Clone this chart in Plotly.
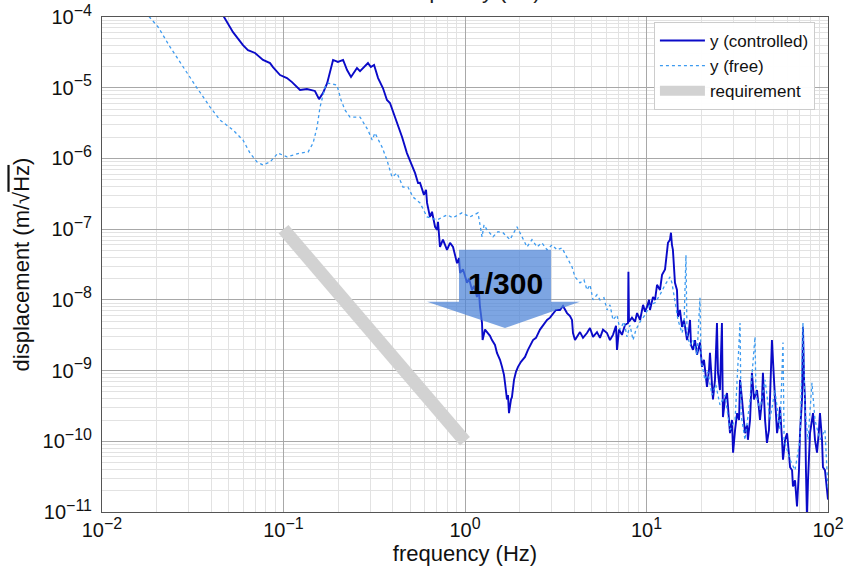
import numpy as np
import plotly.graph_objects as go

# ---- data ----
ctrl_f = [0.046, 0.0527, 0.0598, 0.0637, 0.0697, 0.0771, 0.0843, 0.0875, 0.0957, 0.1045,
          0.1114, 0.1233, 0.1346, 0.1456, 0.149, 0.157, 0.165, 0.174, 0.180, 0.1875,
          0.1995, 0.213, 0.224, 0.2355, 0.254, 0.264, 0.292, 0.303, 0.3155, 0.332,
          0.353, 0.3715, 0.386, 0.411, 0.4385, 0.45, 0.4786, 0.5105, 0.531, 0.551,
          0.565, 0.594, 0.610, 0.618, 0.641, 0.658, 0.684, 0.701, 0.710, 0.728,
          0.756, 0.796, 0.827, 0.859, 0.881, 0.904, 0.927, 0.939, 0.975, 1.026,
          1.052, 1.093, 1.121, 1.164, 1.194, 1.209, 1.241, 1.25, 1.289, 1.322,
          1.373, 1.408, 1.463, 1.500, 1.559, 1.599, 1.640, 1.661, 1.703, 1.725,
          1.747, 1.792, 1.814, 1.862, 1.909, 1.959, 2.034, 2.141, 2.223, 2.370,
          2.461, 2.589, 2.690, 2.831, 2.940, 3.055, 3.171, 3.337, 3.467, 3.648,
          3.789, 3.886, 3.936, 4.037, 4.141, 4.302, 4.469, 4.699, 4.883, 5.073,
          5.336, 5.543, 5.759, 6.056, 6.292, 6.537, 6.791, 6.877, 7.052, 7.326,
          7.612, 7.908, 7.95, 8.008, 8.318, 8.642, 8.872, 9.218, 9.576, 9.82,
          10.07, 10.33, 10.45, 10.86, 11.14, 11.43, 11.87, 12.18, 12.65, 12.97,
          13.13, 13.47, 13.64, 13.81, 13.98, 14.35, 14.72, 14.91, 15.29, 15.69,
          16.09, 16.72, 17.15, 17.37, 17.59, 18.04, 18.50, 18.98, 19.71, 20.21,
          20.73, 21.54, 22.09, 22.37, 22.95, 23.24, 23.84, 24.45, 24.76, 25.39,
          26.04, 26.37, 27.08, 27.77, 28.48, 28.84, 29.58, 29.99, 30.76, 31.55,
          32.35, 32.76, 33.6, 34.46, 34.9, 35.8, 36.2, 37.2, 38.1, 39.1,
          40.6, 41.7, 42.2, 43.3, 43.8, 45.0, 46.1, 47.3, 49.1, 50.4,
          51.0, 52.4, 53.7, 54.4, 55.8, 56.5, 58.0, 59.5, 61.0, 61.8,
          63.4, 64.1, 65.8, 67.5, 69.2, 70.1, 71.9, 72.8, 73.8, 74.7,
          75.6, 76.6, 77.6, 79.6, 81.6, 82.7, 84.8, 87.0, 89.2, 90.3,
          92.7, 93.8, 96.2, 98.6, 100.0]
ctrl_y = [1.1e-4, 6.1e-5, 4.0e-5, 3.4e-5, 3.1e-5, 2.47e-5, 2.23e-5, 1.96e-5, 1.51e-5, 1.37e-5,
          1.2e-5, 9.3e-6, 9.6e-6, 9.3e-6, 9.0e-6, 6.9e-6, 8.4e-6, 1.16e-5, 1.67e-5, 2.47e-5,
          2.31e-5, 2.47e-5, 1.78e-5, 1.42e-5, 1.9e-5, 1.72e-5, 2.23e-5, 1.96e-5, 2.1e-5, 1.37e-5,
          9.9e-6, 6.7e-6, 6.08e-6, 3.85e-6, 2.52e-6, 2.01e-6, 1.19e-6, 8.07e-7, 6.2e-7, 4.49e-7,
          4.52e-7, 3.05e-7, 3.6e-7, 2.35e-7, 1.49e-7, 1.76e-7, 1.08e-7, 9.8e-8, 1.27e-7, 5.6e-8,
          7.1e-8, 5.1e-8, 6.4e-8, 5.6e-8, 4.3e-8, 3.3e-8, 3.9e-8, 2.4e-8, 2.7e-8, 1.74e-8,
          2.0e-8, 1.38e-8, 1.58e-8, 1.1e-8, 1.3e-8, 8.0e-9, 4.7e-9, 2.7e-9, 3.8e-9, 3.5e-9,
          3.1e-9, 2.7e-9, 2.3e-9, 1.78e-9, 1.42e-9, 1.13e-9, 8.7e-10, 6.7e-10, 3.9e-10, 4.5e-10,
          2.5e-10, 3.9e-10, 4.2e-10, 7.4e-10, 9.6e-10, 1.13e-9, 1.33e-9, 1.56e-9, 1.96e-9, 2.7e-9,
          2.9e-9, 3.8e-9, 4.4e-9, 5.2e-9, 5.6e-9, 6.5e-9, 7.2e-9, 7.2e-9, 8.2e-9, 6.5e-9,
          5.9e-9, 5.2e-9, 3.4e-9, 2.7e-9, 3.0e-9, 3.5e-9, 2.9e-9, 3.4e-9, 4.0e-9, 3.0e-9,
          3.5e-9, 2.9e-9, 3.8e-9, 3.4e-9, 2.7e-9, 3.2e-9, 4.3e-9, 1.96e-9, 3.8e-9, 3.2e-9,
          4.4e-9, 4.7e-9, 2.5e-8, 4.9e-9, 5.6e-9, 4.9e-9, 6.5e-9, 5.2e-9, 8.5e-9, 6.8e-9,
          8.0e-9, 1.0e-8, 7.2e-9, 1.1e-8, 1.0e-8, 1.63e-8, 1.38e-8, 2.26e-8, 2.7e-8, 4.3e-8,
          6.4e-8, 7.1e-8, 8.9e-8, 6.0e-8, 5.1e-8, 1.74e-8, 1.38e-8, 5.75e-9, 7.2e-9, 4.15e-9,
          5.2e-9, 2.7e-9, 3.8e-9, 5.2e-9, 2.3e-9, 1.96e-9, 2.7e-9, 1.67e-9, 2.5e-9, 1.13e-9,
          1.42e-9, 5.9e-10, 1.0e-9, 1.78e-9, 7.4e-10, 3.9e-10, 7.4e-10, 4.7e-9, 9.3e-10, 5.3e-10,
          4.7e-9, 2.2e-10, 3.9e-10, 4.8e-10, 2.0e-10, 1.3e-10, 2.0e-10, 6.9e-11, 1.45e-10, 2.5e-10,
          2.0e-10, 7.4e-10, 3.9e-10, 2.0e-10, 1.3e-10, 1.7e-10, 1.05e-10, 2.0e-10, 9.3e-10, 3.9e-10,
          5.3e-10, 2.8e-10, 2.0e-10, 3.9e-10, 9.3e-10, 2.0e-10, 9.5e-11, 1.45e-10, 2.7e-9, 7.4e-10,
          3.9e-10, 1.3e-10, 2.0e-10, 3.07e-10, 1.05e-10, 5.5e-11, 1.05e-10, 1.3e-10, 6.4e-11, 4.3e-11,
          3.9e-11, 2.3e-11, 2.8e-11, 1.2e-11, 3.9e-11, 1.3e-10, 3.9e-10, 4.15e-9, 7.4e-10, 3.9e-10,
          3.9e-11, 8e-12, 2.8e-11, 1.3e-10, 2.0e-10, 2.5e-10, 1.05e-10, 6.9e-11, 1.45e-10, 2.5e-10,
          1.05e-10, 4.3e-11, 3.9e-11, 2.3e-11, 1.5e-11]

free_f = [0.01726, 0.0204, 0.0237, 0.0279, 0.0334, 0.0394, 0.0447, 0.0527, 0.0598, 0.0654,
          0.0715, 0.0771, 0.0843, 0.0933, 0.1045, 0.1233, 0.1365, 0.1456, 0.1531, 0.159,
          0.1694, 0.1759, 0.197, 0.2075, 0.218, 0.2325, 0.264, 0.292, 0.308, 0.319,
          0.349, 0.3715, 0.396, 0.422, 0.455, 0.485, 0.517, 0.565, 0.618, 0.701,
          0.796, 0.859, 0.963, 1.065, 1.179, 1.241, 1.273, 1.322, 1.427, 1.52,
          1.619, 1.770, 1.934, 2.009, 2.196, 2.339, 2.493, 2.655, 2.831, 3.015,
          3.213, 3.422, 3.648, 3.886, 4.037, 4.302, 4.525, 4.699, 4.883, 5.073,
          5.336, 5.543, 5.83, 6.056, 6.292, 6.537, 6.877, 7.14, 7.52, 7.81,
          8.11, 8.43, 8.75, 9.218, 9.82, 10.45, 11.14, 11.87, 12.65, 13.13,
          13.47, 13.81, 14.35, 14.91, 15.69, 16.09, 16.5, 16.72, 17.37, 18.04,
          18.98, 19.71, 19.96, 21.0, 21.8, 22.95, 24.1, 25.39, 27.08, 28.84,
          30.76, 32.76, 33.2, 34.9, 37.2, 39.6, 40.1, 42.2, 45.0, 47.9,
          51.0, 54.4, 56.5, 57.3, 61.8, 65.8, 70.1, 72.8, 74.7, 77.6,
          81.6, 84.8, 90.3, 96.2, 100.0]
free_y = [1.18e-4, 7.2e-5, 3.77e-5, 1.96e-5, 9.9e-6, 5.33e-6, 3.49e-6, 2.52e-6, 1.82e-6, 1.19e-6,
          8.9e-7, 8.07e-7, 8.9e-7, 1.19e-6, 1.05e-6, 1.19e-6, 1.23e-6, 1.65e-6, 2.78e-6, 5.33e-6,
          1.02e-5, 1.16e-5, 1.09e-5, 6.7e-6, 4.84e-6, 3.85e-6, 3.85e-6, 2.52e-6, 1.82e-6, 2.29e-6,
          1.45e-6, 9.5e-7, 5.46e-7, 6.2e-7, 3.94e-7, 3.94e-7, 2.84e-7, 2.35e-7, 1.49e-7, 1.35e-7,
          1.59e-7, 1.45e-7, 1.7e-7, 1.49e-7, 1.7e-7, 7.8e-8, 1.15e-7, 9.8e-8, 7.8e-8, 9.2e-8,
          8.9e-8, 7.1e-8, 1.08e-7, 8.9e-8, 5.6e-8, 7.1e-8, 5.6e-8, 6.4e-8, 5.1e-8, 6.0e-8,
          5.1e-8, 5.43e-8, 4.05e-8, 2.93e-8, 2.11e-8, 1.74e-8, 1.92e-8, 1.38e-8, 1.63e-8, 1.0e-8,
          1.18e-8, 1.0e-8, 1.07e-8, 7.2e-9, 8.5e-9, 5.2e-9, 6.1e-9, 3.8e-9, 4.9e-9, 3.0e-9,
          4.4e-9, 2.7e-9, 3.8e-9, 4.9e-9, 6.1e-9, 8.5e-9, 9.1e-9, 1.18e-8, 1.63e-8, 1.92e-8,
          2.11e-8, 1.74e-8, 1.0e-8, 5.2e-9, 3.4e-9, 4.4e-9, 4.3e-8, 3.2e-9, 2.3e-9, 2.7e-9,
          1.67e-9, 1.07e-8, 1.42e-9, 7.4e-10, 9.6e-10, 4.5e-10, 6.3e-10, 3.27e-10, 4.5e-10, 1.45e-10,
          2.0e-10, 4.7e-9, 2.36e-10, 1.05e-10, 3.9e-10, 3.0e-9, 4.5e-10, 2.8e-10, 7.4e-10, 2.0e-10,
          5.3e-10, 1.45e-10, 2.5e-9, 1.05e-10, 5.5e-11, 3.9e-11, 1.05e-10, 4.7e-9, 2.8e-10, 1.05e-10,
          6.7e-10, 2.0e-10, 1.05e-10, 1.45e-10, 2.06e-11]

req_f = [0.1, 1.0]
req_y = [1e-7, 1e-10]

arrow_f = [0.927, 2.98, 2.98, 4.30, 1.661, 0.618, 0.927, 0.927]
arrow_y = [5.1e-8, 5.1e-8, 9.4e-9, 9.4e-9, 4.0e-9, 9.4e-9, 9.4e-9, 5.1e-8]
arrow_label = "1/300"
label_f = 1.67
label_y = 1.68e-8

x_tick_exp = ["\u22122", "\u22121", "0", "1", "2"]
x_tickvals = [0.01, 0.1, 1, 10, 100]
y_tick_exp = ["\u22124", "\u22125", "\u22126", "\u22127", "\u22128", "\u22129", "\u221210", "\u221211"]
y_tickvals = [1e-4, 1e-5, 1e-6, 1e-7, 1e-8, 1e-9, 1e-10, 1e-11]

SUP = "10<sup><span style='font-size:16px'>%s</span></sup>"
x_ticktext = [SUP % e for e in x_tick_exp]
y_ticktext = [SUP % e for e in y_tick_exp]

FONT = "Liberation Sans, Arial, sans-serif"

fig = go.Figure()
fig.add_trace(go.Scatter(x=ctrl_f, y=ctrl_y, mode="lines", name="y (controlled)",
                         line=dict(color="#0a0ac8", width=1.9)))
fig.add_trace(go.Scatter(x=free_f, y=free_y, mode="lines", name="y (free)",
                         line=dict(color="#3d9bf0", width=1.3, dash="dot")))
fig.add_trace(go.Scatter(x=req_f, y=req_y, mode="lines", name="requirement",
                         line=dict(color="#d2d2d2", width=13)))
fig.add_trace(go.Scatter(x=arrow_f, y=arrow_y, mode="lines", fill="toself",
                         fillcolor="rgba(75,130,215,0.72)", line=dict(width=0),
                         showlegend=False, hoverinfo="skip"))
fig.add_annotation(x=np.log10(label_f), y=np.log10(label_y), xref="x", yref="y",
                   text="<b>%s</b>" % arrow_label, showarrow=False,
                   font=dict(family=FONT, size=30, color="black"))
fig.add_annotation(x=0.5, y=1, xref="paper", yref="paper", yanchor="bottom",
                   yshift=12, text="Frequency (Hz)", showarrow=False,
                   font=dict(family=FONT, size=22, color="#222"))

minor_x = [m * 10.0 ** e for e in range(-2, 2) for m in range(2, 10)]
minor_y = [m * 10.0 ** e for e in range(-11, -4) for m in range(2, 10)]

axis_common = dict(type="log", showline=True, mirror=True, linecolor="#555", linewidth=1,
                   showgrid=True, gridcolor="#a8a8a8", gridwidth=1.3, zeroline=False,
                   automargin=False, ticks="",
                   tickfont=dict(family=FONT, size=20, color="#111"))
fig.update_xaxes(**axis_common, range=[-2, 2], tickvals=x_tickvals, ticktext=x_ticktext,
                 minor=dict(tickvals=minor_x, showgrid=True, gridcolor="#e2e2e2", gridwidth=1),
                 title=dict(text="frequency (Hz)", font=dict(family=FONT, size=22, color="#111"),
                            standoff=4))
fig.update_yaxes(**axis_common, range=[-11, -4], tickvals=y_tickvals, ticktext=y_ticktext,
                 ticklabelstandoff=5,
                 minor=dict(tickvals=minor_y, showgrid=True, gridcolor="#e2e2e2", gridwidth=1),
                 title=dict(text="displacement (m/\u221a<span style='text-decoration:overline'>Hz</span>)",
                            font=dict(family=FONT, size=22, color="#111"), standoff=6))
fig.update_layout(
    width=846, height=573, plot_bgcolor="white", paper_bgcolor="white",
    margin=dict(l=102, r=18, t=17, b=61),
    font=dict(family=FONT),
    legend=dict(x=0.982, y=0.99, xanchor="right", yanchor="top", itemwidth=45,
                bgcolor="rgba(255,255,255,0.95)", bordercolor="#cccccc", borderwidth=1,
                font=dict(family=FONT, size=17, color="#111"), traceorder="normal"),
)
fig.write_html("out.html")
